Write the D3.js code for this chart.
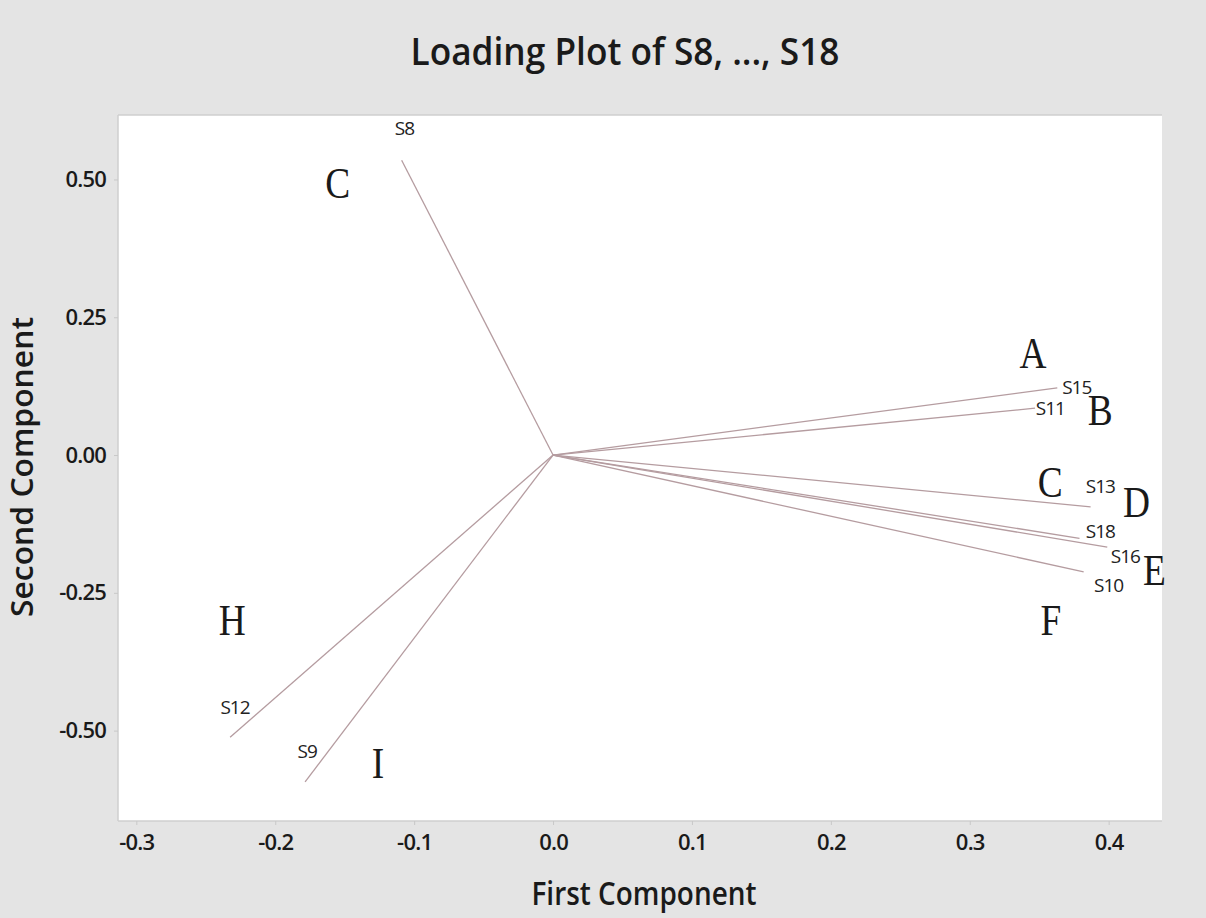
<!DOCTYPE html>
<html><head><meta charset="utf-8">
<script src="https://cdn.jsdelivr.net/npm/d3@7"></script>
<style>
html,body{margin:0;padding:0;background:#e4e4e4;}
svg{display:block;}
</style></head>
<body>
<svg id="chart" width="1206" height="918"></svg>
<script>
// Loading data (first component, second component)
const variables = ["S8","S15","S11","S13","S18","S16","S10","S12","S9"];
const pc1 = [-0.109, 0.363, 0.347, 0.387, 0.379, 0.399, 0.382, -0.2325, -0.1785];
const pc2 = [0.535, 0.122, 0.085, -0.094, -0.151, -0.167, -0.212, -0.512, -0.593];
// label positions (data units)
const labelX = [-0.107, 0.377, 0.358, 0.394, 0.394, 0.412, 0.400, -0.229, -0.177];
const labelY = [0.59, 0.120, 0.082, -0.060, -0.142, -0.186, -0.240, -0.460, -0.540];
// Group annotations
const groupLetters = ["A","B","C","D","E","F","C","H","I"];
const groupX = [0.3456, 0.394, 0.358, 0.420, 0.433, 0.3585, -0.155, -0.231, -0.126];
const groupY = [0.158, 0.054, -0.076, -0.1125, -0.236, -0.327, 0.466, -0.327, -0.586];
// Axis ticks
const xTicks = [-0.3,-0.2,-0.1,0.0,0.1,0.2,0.3,0.4];
const yTicks = [-0.50,-0.25,0.00,0.25,0.50];

const svg = d3.select("#chart");
const W = 1206, H = 918;
const plot = {left:118, right:1162, top:115, bottom:821};

const x = d3.scaleLinear().domain([-0.3132, 0.4384]).range([plot.left, plot.right]);
const y = d3.scaleLinear().domain([0.617, -0.664]).range([plot.top, plot.bottom]);

svg.append("rect").attr("width",W).attr("height",H).attr("fill","#e4e4e4");
svg.append("rect").attr("x",plot.left).attr("y",plot.top)
  .attr("width",plot.right-plot.left).attr("height",plot.bottom-plot.top)
  .attr("fill","#ffffff");
svg.append("line").attr("x1",plot.left).attr("x2",plot.right).attr("y1",plot.top).attr("y2",plot.top)
  .attr("stroke","#cfcfcf").attr("stroke-width",1.5);
svg.append("line").attr("x1",plot.left).attr("x2",plot.right).attr("y1",plot.bottom).attr("y2",plot.bottom)
  .attr("stroke","#cfcfcf").attr("stroke-width",1.5);
svg.append("line").attr("x1",plot.left).attr("x2",plot.left).attr("y1",plot.top).attr("y2",plot.bottom)
  .attr("stroke","#cfcfcf").attr("stroke-width",1.5);

const font = "'Open Sans', sans-serif";
const hyphenFmt = f => d => d3.format(f)(d).replace("\u2212","-");

// X axis
const xAxis = d3.axisBottom(x).tickValues(xTicks).tickFormat(hyphenFmt(".1f")).tickSize(4).tickPadding(9);
const gx = svg.append("g").attr("transform",`translate(0,${plot.bottom})`).call(xAxis);
gx.select(".domain").remove();
gx.selectAll(".tick line").attr("stroke","#c8c8c8");
gx.selectAll(".tick text").attr("font-family",font).attr("font-size",22).attr("font-weight",600)
  .attr("fill","#1a1a1a").attr("letter-spacing","-0.8px");

// Y axis
const yAxis = d3.axisLeft(y).tickValues(yTicks).tickFormat(hyphenFmt(".2f")).tickSize(4).tickPadding(8);
const gy = svg.append("g").attr("transform",`translate(${plot.left},0)`).call(yAxis);
gy.select(".domain").remove();
gy.selectAll(".tick line").attr("stroke","#c8c8c8");
gy.selectAll(".tick text").attr("font-family",font).attr("font-size",22).attr("font-weight",600)
  .attr("fill","#1a1a1a").attr("letter-spacing","-0.8px");

// Title
svg.append("text").attr("x",625).attr("y",65).attr("text-anchor","middle")
  .attr("font-family",font).attr("font-size",37).attr("font-weight",600).attr("fill","#1a1a1a")
  .attr("textLength",429).attr("lengthAdjust","spacingAndGlyphs")
  .text("Loading Plot of S8, ..., S18");

// Axis titles
svg.append("text").attr("x",644).attr("y",905).attr("text-anchor","middle")
  .attr("font-family",font).attr("font-size",32).attr("font-weight",600).attr("fill","#1a1a1a")
  .attr("textLength",225).attr("lengthAdjust","spacingAndGlyphs")
  .text("First Component");
svg.append("text").attr("transform","translate(33,467) rotate(-90)").attr("text-anchor","middle")
  .attr("font-family",font).attr("font-size",31).attr("font-weight",600).attr("fill","#1a1a1a")
  .attr("textLength",300).attr("lengthAdjust","spacingAndGlyphs")
  .text("Second Component");

// Loading lines
const data = variables.map((v,i)=>({name:v, x:pc1[i], y:pc2[i], lx:labelX[i], ly:labelY[i]}));
svg.append("g").selectAll("line").data(data).join("line")
  .attr("x1",x(0)).attr("y1",y(0))
  .attr("x2",d=>x(d.x)).attr("y2",d=>y(d.y))
  .attr("stroke","#b59ca0").attr("stroke-width",1.3);

// Variable labels
svg.append("g").selectAll("text").data(data).join("text")
  .attr("x",d=>x(d.lx)).attr("y",d=>y(d.ly)).attr("text-anchor","middle").attr("dominant-baseline","middle")
  .attr("font-family",font).attr("font-size",19).attr("fill","#222")
  .attr("letter-spacing","-1px")
  .text(d=>d.name);

// Group letters (slightly condensed serif)
const groups = groupLetters.map((g,i)=>({g, x:groupX[i], y:groupY[i]}));
svg.append("g").selectAll("text").data(groups).join("text")
  .attr("transform",d=>`translate(${x(d.x)},${y(d.y)}) scale(0.85,1)`)
  .attr("text-anchor","middle")
  .attr("font-family","'Liberation Serif', 'DejaVu Serif', serif").attr("font-size",44).attr("fill","#1a1a1a")
  .text(d=>d.g);
</script>
</body></html>
